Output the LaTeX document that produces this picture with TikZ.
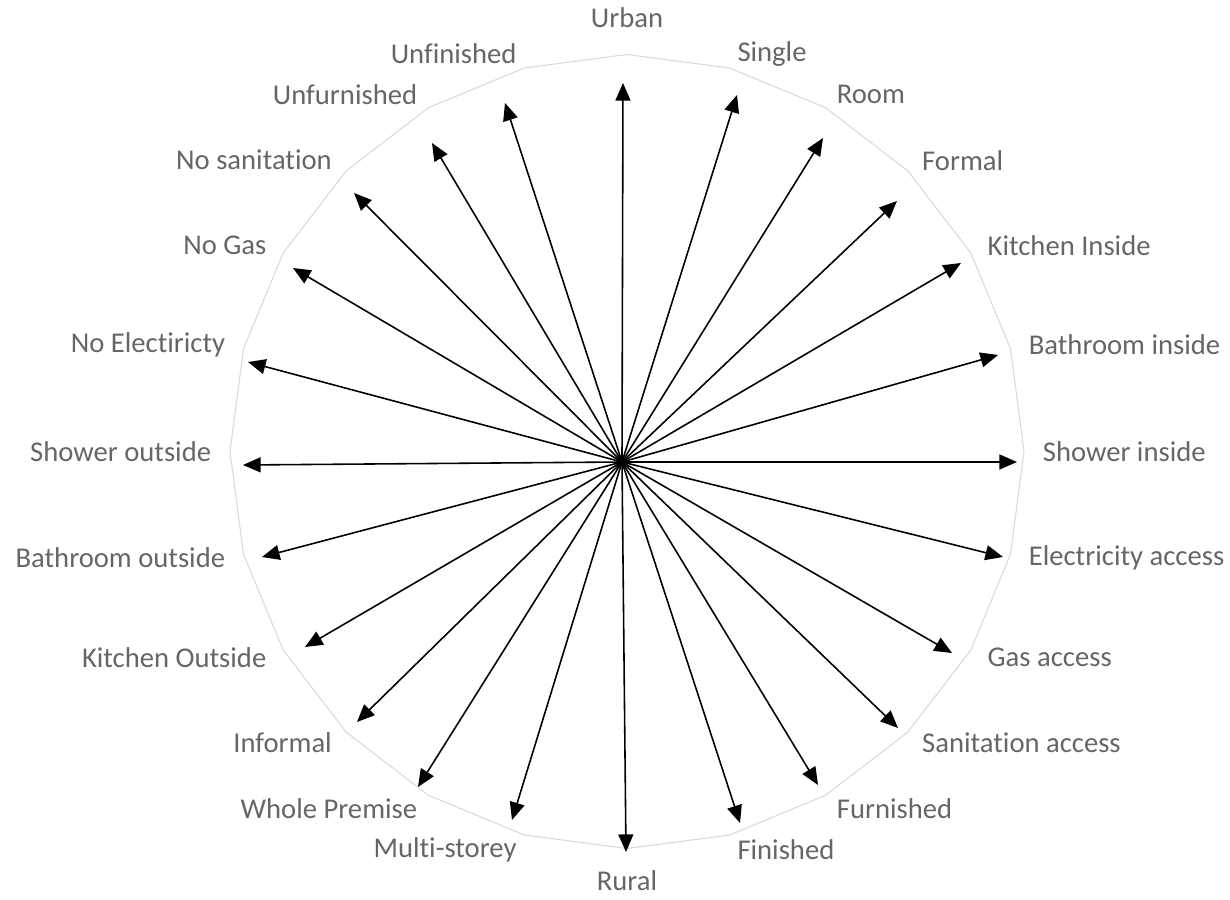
\documentclass[tikz,border=0pt]{standalone}
\usepackage{fontspec}
\setmainfont{Carlito}[Ligatures=NoCommon]
\usetikzlibrary{arrows.meta}
\definecolor{labgray}{HTML}{666666}
\definecolor{ringgray}{HTML}{D9D9D9}

\begin{document}
\begin{tikzpicture}[x=0.02cm, y=0.02cm,
    ring/.style={draw=ringgray, line width=0.6pt, line join=round},
    spoke/.style={line width=0.9pt, -{Triangle[length=10pt,width=8.5pt]}},
    lab/.style={text=labgray, inner sep=2pt, font=\fontsize{16.3}{19}\selectfont}]
      \useasboundingbox (-627,-447.5) rectangle (603,451.5);

      % outer web
      \draw[ring] (90:397) -- (75:397) -- (60:397) -- (45:397) -- (30:397) -- (15:397) -- (0:397) -- (-15:397)
            -- (-30:397) -- (-45:397) -- (-60:397) -- (-75:397) -- (-90:397) -- (-105:397) -- (-120:397) -- (-135:397)
            -- (-150:397) -- (-165:397) -- (180:397) -- (165:397) -- (150:397) -- (135:397) -- (120:397) -- (105:397) -- cycle;

      % labels
      \node[lab, anchor=south] (urban) at (90:420) {Urban};
      \node[lab, anchor=west] (single) at (75:412) {Single};
      \node[lab, anchor=west] (room) at (60:412) {Room};
      \node[lab, anchor=west] (formal) at (45:412) {Formal};
      \node[lab, anchor=west] (kitIn) at (30:412) {Kitchen Inside};
      \node[lab, anchor=west] (bathIn) at (15:412) {Bathroom inside};
      \node[lab, anchor=west] (showIn) at (0:412) {Shower inside};
      \node[lab, anchor=west] (elec) at (-15:412) {Electricity access};
      \node[lab, anchor=west] (gas) at (-30:412) {Gas access};
      \node[lab, anchor=west] (sanit) at (-45:412) {Sanitation access};
      \node[lab, anchor=west] (furn) at (-60:412) {Furnished};
      \node[lab, anchor=west] (fin) at (-75:412) {Finished};
      \node[lab, anchor=north] (rural) at (-90:415) {Rural};
      \node[lab, anchor=east] (multi) at (-105:412) {Multi-storey};
      \node[lab, anchor=east] (whole) at (-120:412) {Whole Premise};
      \node[lab, anchor=east] (informal) at (-135:412) {Informal};
      \node[lab, anchor=east] (kitOut) at (-150:412) {Kitchen Outside};
      \node[lab, anchor=east] (bathOut) at (-165:412) {Bathroom outside};
      \node[lab, anchor=east] (showOut) at (180:412) {Shower outside};
      \node[lab, anchor=east] (noElec) at (165:412) {No Electiricty};
      \node[lab, anchor=east] (noGas) at (150:412) {No Gas};
      \node[lab, anchor=east] (noSanit) at (135:412) {No sanitation};
      \node[lab, anchor=east] (unfurn) at (120:412) {Unfurnished};
      \node[lab, anchor=east] (unfin) at (105:412) {Unfinished};

      % arrow ends
      \coordinate (hub) at (-5,-10.5);
      \coordinate (urban-tip) at (-4,368.5);
      \coordinate (single-tip) at (110,356.5);
      \coordinate (room-tip) at (196,313.5);
      \coordinate (formal-tip) at (270,250.5);
      \coordinate (kitIn-tip) at (334,188.5);
      \coordinate (bathIn-tip) at (371,96.5);
      \coordinate (showIn-tip) at (390,-10.5);
      \coordinate (elec-tip) at (376,-105.5);
      \coordinate (gas-tip) at (325,-201.5);
      \coordinate (sanit-tip) at (271,-276.5);
      \coordinate (furn-tip) at (191,-333.5);
      \coordinate (fin-tip) at (113,-371.5);
      \coordinate (rural-tip) at (-1,-400.5);
      \coordinate (multi-tip) at (-115,-368.5);
      \coordinate (whole-tip) at (-209,-335.5);
      \coordinate (informal-tip) at (-270,-270.5);
      \coordinate (kitOut-tip) at (-322,-195.5);
      \coordinate (bathOut-tip) at (-365,-105.5);
      \coordinate (showOut-tip) at (-384,-13.5);
      \coordinate (noElec-tip) at (-379,89.5);
      \coordinate (noGas-tip) at (-334,183.5);
      \coordinate (noSanit-tip) at (-273,258.5);
      \coordinate (unfurn-tip) at (-195,308.5);
      \coordinate (unfin-tip) at (-122,348.5);

      \draw[spoke] (hub) -- (urban-tip);
      \draw[spoke] (hub) -- (single-tip);
      \draw[spoke] (hub) -- (room-tip);
      \draw[spoke] (hub) -- (formal-tip);
      \draw[spoke] (hub) -- (kitIn-tip);
      \draw[spoke] (hub) -- (bathIn-tip);
      \draw[spoke] (hub) -- (showIn-tip);
      \draw[spoke] (hub) -- (elec-tip);
      \draw[spoke] (hub) -- (gas-tip);
      \draw[spoke] (hub) -- (sanit-tip);
      \draw[spoke] (hub) -- (furn-tip);
      \draw[spoke] (hub) -- (fin-tip);
      \draw[spoke] (hub) -- (rural-tip);
      \draw[spoke] (hub) -- (multi-tip);
      \draw[spoke] (hub) -- (whole-tip);
      \draw[spoke] (hub) -- (informal-tip);
      \draw[spoke] (hub) -- (kitOut-tip);
      \draw[spoke] (hub) -- (bathOut-tip);
      \draw[spoke] (hub) -- (showOut-tip);
      \draw[spoke] (hub) -- (noElec-tip);
      \draw[spoke] (hub) -- (noGas-tip);
      \draw[spoke] (hub) -- (noSanit-tip);
      \draw[spoke] (hub) -- (unfurn-tip);
      \draw[spoke] (hub) -- (unfin-tip);
\end{tikzpicture}
\end{document}
